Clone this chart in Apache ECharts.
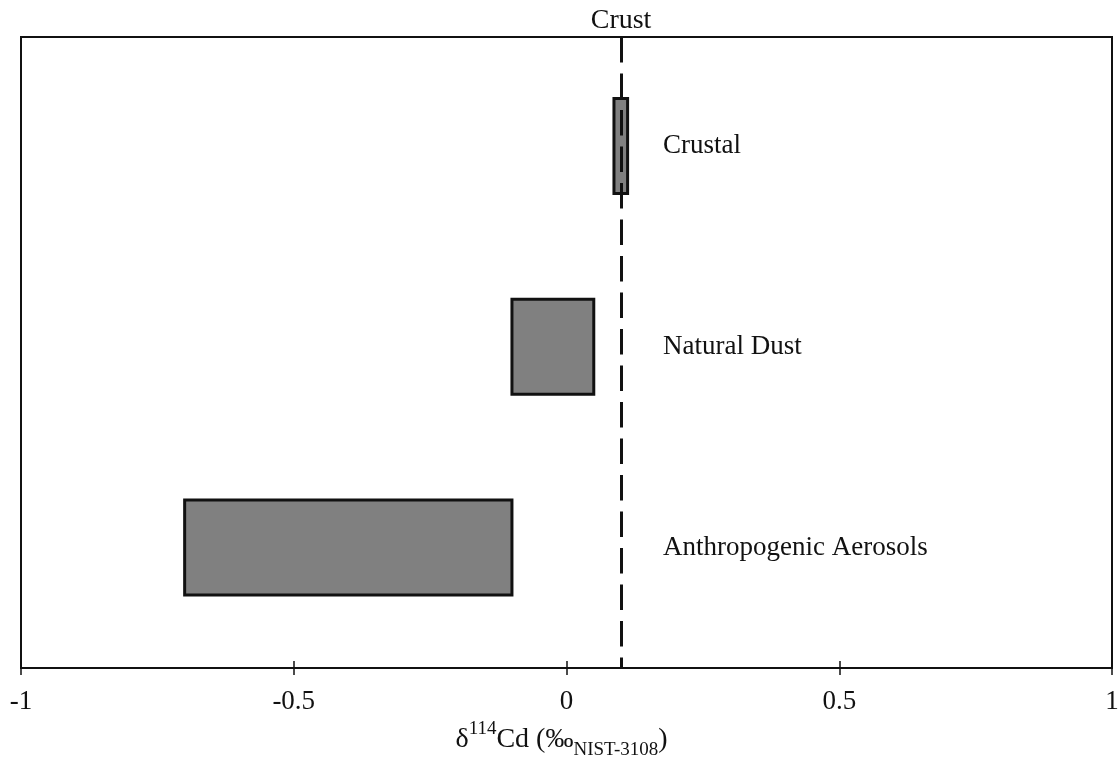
<!DOCTYPE html>
<html>
<head>
<meta charset="utf-8">
<style>
  html, body { margin: 0; padding: 0; background: #fff; }
  #chart { width: 1118px; height: 763px; }
</style>
<script src="https://cdn.jsdelivr.net/npm/echarts@6/dist/echarts.min.js"></script>
</head>
<body>
<div id="chart"></div>
<script>
// Cd isotope ranges of aerosol sources (δ114Cd, ‰ relative to NIST-3108)
const sources = ['Crustal', 'Natural Dust', 'Anthropogenic Aerosols'];
const rangeLow = [0.087, -0.100, -0.700];
const rangeHigh = [0.112, 0.050, -0.100];
const rowIndex = [0, 1, 2];
const crustValue = 0.1;
const crustLabel = 'Crust';
const xTicks = [-1, -0.5, 0, 0.5, 1];

const FONT = '"Liberation Serif", "Times New Roman", serif';
const BAND = 0.473;      // bar thickness in row units
const LABEL_X = 0.177;   // where the source names sit on the x axis

const boxData = sources.map((name, i) => [rangeLow[i], rangeHigh[i], rowIndex[i], name]);

const chart = echarts.init(document.getElementById('chart'), null, { renderer: 'canvas' });

chart.setOption({
  animation: false,
  backgroundColor: '#ffffff',
  grid: {
    left: 21, right: 6, top: 37, bottom: 95,
    outerBoundsMode: 'none',
    containLabel: false,
    show: true, borderColor: '#111', borderWidth: 2, backgroundColor: 'transparent'
  },
  xAxis: [{
    type: 'value',
    min: xTicks[0], max: xTicks[xTicks.length - 1], interval: 0.5,
    position: 'bottom',
    axisLine: { show: true, onZero: false, lineStyle: { color: '#111', width: 2 } },
    axisTick: { show: true, length: 7, lineStyle: { color: '#111', width: 1.5 } },
    splitLine: { show: false },
    axisLabel: {
      margin: 20, color: '#111', fontFamily: FONT, fontSize: 27,
      formatter: v => String(v)
    },
    name: '{m|δ}{sup|114}{m|Cd (‰}{sub|NIST-3108}{m|)}',
    nameLocation: 'middle',
    nameGap: 52,
    nameTextStyle: {
      color: '#111', fontFamily: FONT, fontSize: 28,
      padding: [0, 10, 0, 0],
      rich: {
        m: { fontFamily: FONT, fontSize: 28, color: '#111', lineHeight: 34, verticalAlign: 'bottom' },
        sup: { fontFamily: FONT, fontSize: 19, color: '#111', lineHeight: 34, verticalAlign: 'top' },
        sub: { fontFamily: FONT, fontSize: 19, color: '#111', lineHeight: 26, verticalAlign: 'bottom', padding: [0, 0, -6, 0] }
      }
    }
  }, {
    type: 'value',
    min: xTicks[0], max: xTicks[xTicks.length - 1], interval: 0.5,
    position: 'bottom',
    axisLine: { show: false, onZero: false },
    axisTick: { show: true, inside: true, length: 7, lineStyle: { color: '#111', width: 1.5 } },
    axisLabel: { show: false },
    splitLine: { show: false }
  }],
  yAxis: {
    type: 'value',
    min: -0.543, max: 2.600,
    inverse: true,
    show: false
  },
  series: [{
    type: 'custom',
    xAxisIndex: 0,
    yAxisIndex: 0,
    data: boxData,
    encode: { x: [0, 1], y: 2 },
    renderItem: function (params, api) {
      const lo = api.coord([api.value(0), api.value(2)]);
      const hi = api.coord([api.value(1), api.value(2)]);
      const h = api.size([0, BAND])[1];
      const lab = api.coord([LABEL_X, api.value(2)]);
      return {
        type: 'group',
        children: [{
          type: 'rect',
          shape: { x: lo[0], y: lo[1] - h / 2, width: hi[0] - lo[0], height: h },
          style: { fill: '#808080', stroke: '#111', lineWidth: 3 }
        }, {
          type: 'text',
          style: {
            x: lab[0], y: lab[1],
            text: sources[params.dataIndex],
            fill: '#111', font: '27px ' + FONT,
            textAlign: 'left', textVerticalAlign: 'middle'
          }
        }]
      };
    },
    markLine: {
      silent: true,
      symbol: ['none', 'none'],
      lineStyle: { color: '#111', width: 3, type: [25.5, 11], dashOffset: 0 },
      label: {
        show: true, position: 'start', distance: 2,
        formatter: crustLabel,
        color: '#111', fontFamily: FONT, fontSize: 28
      },
      data: [{ xAxis: crustValue }]
    }
  }]
});
</script>
</body>
</html>
